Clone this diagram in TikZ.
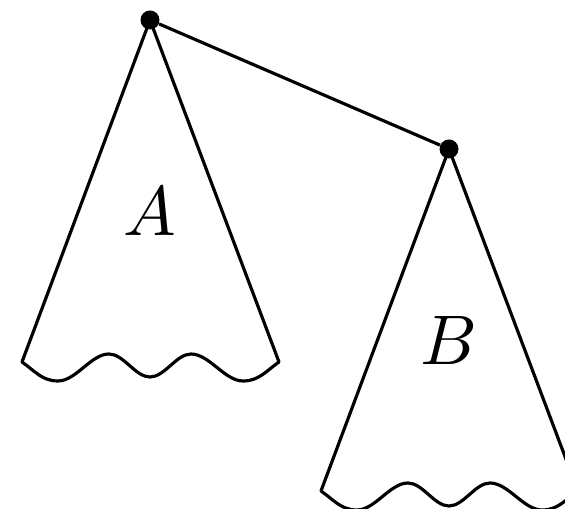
\documentclass[tikz,border=0pt]{standalone}
\usepackage{amsmath,amssymb}
\usetikzlibrary{positioning}
\tikzset{
  raiz/.style={circle, fill=black, inner sep=0pt, minimum size=0.38cm},
  arista/.style={line width=1.8pt},
  arbol/.style={line width=1.8pt, line join=round},
  etq/.style={scale=4},
}
\begin{document}
\begin{tikzpicture}[x=0.02cm, y=-0.02cm]
  \clip (0,0) rectangle (565,509);
  \node[raiz] (ra) at (150,20) {};
  \node[raiz] (rb) at (449,149) {};
  % subarboles con borde ondulado
  \foreach \r/\l in {ra/A, rb/B} {
    \begin{scope}[shift={(\r.center)}]
      \draw[arbol] (0,0) -- (-128,342)
        to[out=-35,in=180] (-92,361)
        to[out=0,in=180,looseness=0.8] (-41,334)
        to[out=0,in=180,looseness=0.8] (0,357)
        to[out=0,in=180,looseness=0.8] (41,334)
        to[out=0,in=180,looseness=0.8] (93,361)
        to[out=0,in=-145] (129,342) -- cycle;
      \node[etq] at (0,191) {$\l$};
    \end{scope}
  }
  \draw[arista] (ra) -- (rb);
\end{tikzpicture}
\end{document}
